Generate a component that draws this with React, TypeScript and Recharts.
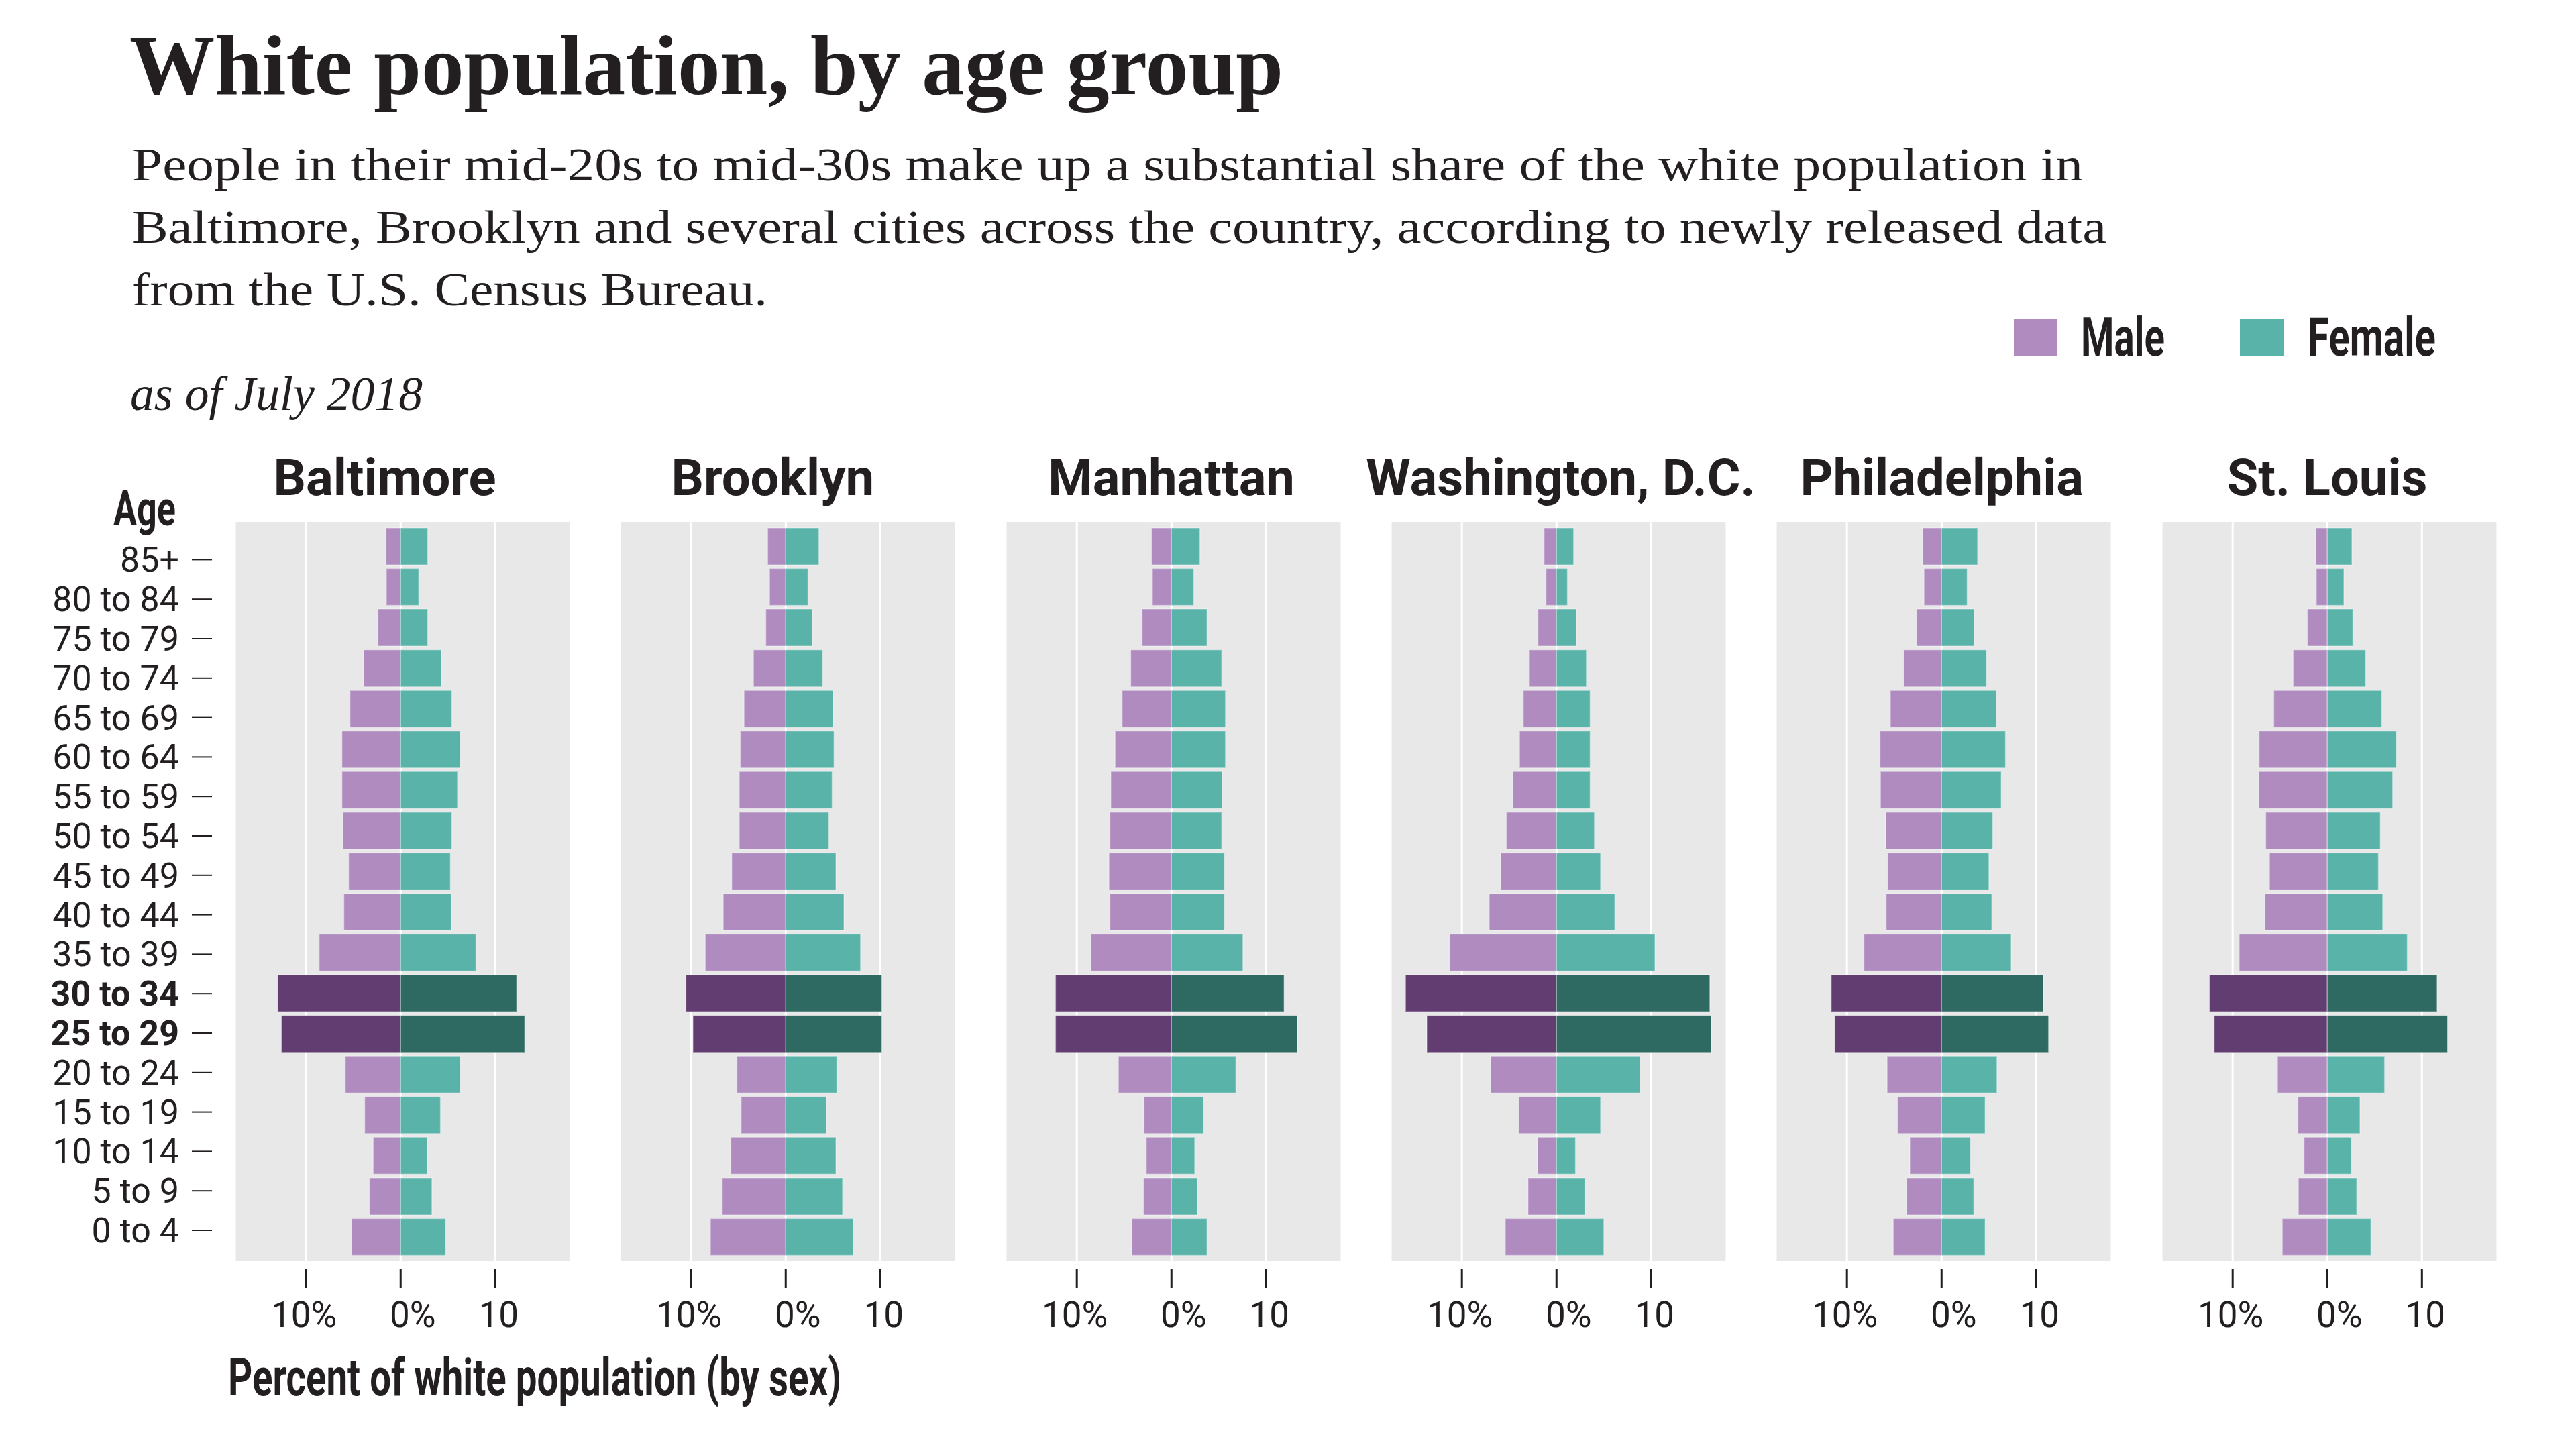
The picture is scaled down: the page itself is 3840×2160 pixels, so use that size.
import React from 'react';
import { BarChart, Bar, XAxis, YAxis, CartesianGrid, Cell } from 'recharts';

// age groups, oldest first (top of each pyramid)
const ageGroups = [
  '85+', '80 to 84', '75 to 79', '70 to 74', '65 to 69', '60 to 64', '55 to 59', '50 to 54', '45 to 49',
  '40 to 44', '35 to 39', '30 to 34', '25 to 29', '20 to 24', '15 to 19', '10 to 14', '5 to 9', '0 to 4',
];
const highlightAges = ['30 to 34', '25 to 29'];

const cities = ['Baltimore', 'Brooklyn', 'Manhattan', 'Washington, D.C.', 'Philadelphia', 'St. Louis'];

// percent of white population, by sex
const baltimoreMale = [1.55, 1.5, 2.4, 3.9, 5.35, 6.2, 6.2, 6.1, 5.5, 6.0, 8.6, 13.0, 12.6, 5.85, 3.8, 2.9, 3.3, 5.2];
const baltimoreFemale = [2.85, 1.9, 2.85, 4.3, 5.4, 6.3, 6.0, 5.4, 5.25, 5.35, 7.95, 12.25, 13.1, 6.3, 4.2, 2.8, 3.3, 4.75];
const brooklynMale = [1.9, 1.7, 2.1, 3.4, 4.4, 4.8, 4.9, 4.9, 5.7, 6.6, 8.5, 10.55, 9.8, 5.15, 4.7, 5.8, 6.7, 7.95];
const brooklynFemale = [3.5, 2.35, 2.8, 3.9, 5.0, 5.1, 4.9, 4.55, 5.3, 6.15, 7.9, 10.15, 10.15, 5.4, 4.3, 5.3, 6.0, 7.15];
const manhattanMale = [2.1, 2.0, 3.1, 4.3, 5.2, 5.95, 6.4, 6.5, 6.6, 6.5, 8.5, 12.25, 12.25, 5.6, 2.9, 2.65, 2.95, 4.2];
const manhattanFemale = [3.0, 2.35, 3.75, 5.3, 5.7, 5.7, 5.35, 5.3, 5.6, 5.6, 7.55, 11.9, 13.3, 6.8, 3.4, 2.45, 2.75, 3.75];
const washingtonMale = [1.3, 1.1, 1.95, 2.85, 3.5, 3.9, 4.6, 5.3, 5.9, 7.1, 11.3, 15.95, 13.7, 6.95, 4.0, 2.0, 3.0, 5.4];
const washingtonFemale = [1.8, 1.15, 2.1, 3.15, 3.55, 3.55, 3.55, 4.0, 4.65, 6.15, 10.4, 16.2, 16.35, 8.85, 4.65, 2.0, 3.0, 5.0];
const philadelphiaMale = [2.0, 1.85, 2.65, 4.0, 5.4, 6.5, 6.45, 5.9, 5.7, 5.85, 8.2, 11.65, 11.3, 5.75, 4.65, 3.35, 3.7, 5.1];
const philadelphiaFemale = [3.8, 2.7, 3.45, 4.75, 5.8, 6.75, 6.3, 5.4, 5.0, 5.3, 7.35, 10.75, 11.3, 5.85, 4.6, 3.05, 3.4, 4.6];
const stLouisMale = [1.2, 1.15, 2.1, 3.6, 5.65, 7.2, 7.25, 6.5, 6.1, 6.6, 9.3, 12.45, 11.95, 5.25, 3.1, 2.45, 3.05, 4.75];
const stLouisFemale = [2.6, 1.75, 2.7, 4.05, 5.75, 7.3, 6.9, 5.6, 5.4, 5.85, 8.45, 11.6, 12.7, 6.05, 3.45, 2.55, 3.1, 4.6];

const maleSeries = [baltimoreMale, brooklynMale, manhattanMale, washingtonMale, philadelphiaMale, stLouisMale];
const femaleSeries = [baltimoreFemale, brooklynFemale, manhattanFemale, washingtonFemale, philadelphiaFemale, stLouisFemale];

const xTicks = [-10, 0, 10];
const xTickLabels = ['10%', '0%', '10'];

const INK = '#231f20';
const MALE = '#b08bc0';
const FEMALE = '#59b3a9';
const MALE_DARK = '#623d72';
const FEMALE_DARK = '#2e6962';
const PANEL_BG = '#e8e8e8';
const SANS = 'Roboto, "Noto Sans", sans-serif';
const SERIF = '"Liberation Serif", "DejaVu Serif", serif';

const PANEL_X0 = 350;
const PANEL_STEP = 574.3;
const PANEL_W = 501;
const PANEL_TOP = 778;
const PANEL_H = 1102;
const AXIS_H = 130;
const X_DOMAIN: [number, number] = [-17.53, 17.99];
const ZERO_OFFSET = 247.5;
const labelNudge = [-3, 18, 5];
const titleNudge = [-24, -20, 0, 6, 0, 0];

function XTick(props: any) {
  const { x, y, payload } = props;
  const i = xTicks.indexOf(payload.value);
  return (
    <g>
      <line x1={x} x2={x} y1={y + 12} y2={y + 40} stroke={INK} strokeWidth={3} />
      <text x={x + labelNudge[i]} y={y + 98} textAnchor="middle" fontFamily={SANS} fontSize={53} fill={INK}>
        {xTickLabels[i]}
      </text>
    </g>
  );
}

function AgeTick(props: any) {
  const { x, y, payload } = props;
  const bold = highlightAges.includes(payload.value);
  return (
    <g>
      <line x1={x - 30} x2={x} y1={y} y2={y} stroke={INK} strokeWidth={2} />
      <text x={x - 49} y={y + 18} textAnchor="end" fontFamily={SANS} fontSize={52} fontWeight={bold ? 700 : 400} fill={INK}>
        {payload.value}
      </text>
    </g>
  );
}

function Panel({ index }: { index: number }) {
  const male = maleSeries[index];
  const female = femaleSeries[index];
  const data = ageGroups.map((age, i) => ({ age, male: -male[i], female: female[i] }));
  return (
    <div style={{ position: 'absolute', left: PANEL_X0 + index * PANEL_STEP, top: PANEL_TOP }}>
      <BarChart
        width={PANEL_W}
        height={PANEL_H + AXIS_H}
        data={data}
        layout="vertical"
        stackOffset="sign"
        barCategoryGap={3}
        margin={{ top: 0, right: 0, bottom: 0, left: 0 }}
      >
        <CartesianGrid horizontal={false} stroke="#ffffff" strokeWidth={3} fill={PANEL_BG} fillOpacity={1} />
        <XAxis
          type="number"
          domain={X_DOMAIN}
          allowDataOverflow
          ticks={xTicks}
          interval={0}
          axisLine={false}
          tickLine={false}
          tickSize={0}
          tickMargin={0}
          height={AXIS_H}
          tick={<XTick />}
        />
        <YAxis type="category" dataKey="age" hide padding={{ top: 6, bottom: 6 }} />
        <Bar dataKey="male" stackId="pop" isAnimationActive={false} stroke="#ffffff" strokeOpacity={0.3} strokeWidth={1.5}>
          {data.map((d) => (
            <Cell key={d.age} fill={highlightAges.includes(d.age) ? MALE_DARK : MALE} />
          ))}
        </Bar>
        <Bar dataKey="female" stackId="pop" isAnimationActive={false} stroke="#ffffff" strokeOpacity={0.3} strokeWidth={1.5}>
          {data.map((d) => (
            <Cell key={d.age} fill={highlightAges.includes(d.age) ? FEMALE_DARK : FEMALE} />
          ))}
        </Bar>
      </BarChart>
    </div>
  );
}

function AgeAxis() {
  const rows = ageGroups.map((age) => ({ age }));
  const step = 58.8;
  const pad = 40;
  return (
    <div style={{ position: 'absolute', left: 0, top: 834.7 - step / 2 - pad }}>
      <BarChart
        width={330}
        height={step * ageGroups.length + pad * 2}
        data={rows}
        layout="vertical"
        margin={{ top: pad, right: 0, bottom: pad, left: 0 }}
      >
        <XAxis type="number" hide domain={[0, 1]} />
        <YAxis
          type="category"
          dataKey="age"
          width={316}
          interval={0}
          axisLine={false}
          tickLine={false}
          tickSize={0}
          tickMargin={0}
          tick={<AgeTick />}
        />
      </BarChart>
    </div>
  );
}

export default function App() {
  return (
    <div style={{ position: 'absolute', left: 0, top: 0, width: 3840, height: 2160, background: '#ffffff', overflow: 'hidden' }}>
      <svg width={3840} height={2160} style={{ position: 'absolute', left: 0, top: 0 }}>
        <text x={193} y={140} fontFamily={SERIF} fontWeight={700} fontSize={128} fill={INK} textLength={1720} lengthAdjust="spacingAndGlyphs">
          White population, by age group
        </text>
        <text x={197} y={269} fontFamily={SERIF} fontSize={70} fill={INK} textLength={2908} lengthAdjust="spacingAndGlyphs">
          People in their mid-20s to mid-30s make up a substantial share of the white population in
        </text>
        <text x={197} y={362} fontFamily={SERIF} fontSize={70} fill={INK} textLength={2943} lengthAdjust="spacingAndGlyphs">
          Baltimore, Brooklyn and several cities across the country, according to newly released data
        </text>
        <text x={197} y={455} fontFamily={SERIF} fontSize={70} fill={INK} textLength={947} lengthAdjust="spacingAndGlyphs">
          from the U.S. Census Bureau.
        </text>
        <text x={194} y={611} fontFamily={SERIF} fontStyle="italic" fontSize={72} fill={INK} textLength={436} lengthAdjust="spacingAndGlyphs">
          as of July 2018
        </text>

        <rect x={3002} y={475} width={65} height={55} fill={MALE} />
        <text x={3102} y={530} fontFamily={SANS} fontWeight={700} fontSize={80} fill={INK} textLength={125} lengthAdjust="spacingAndGlyphs">
          Male
        </text>
        <rect x={3339} y={475} width={65} height={55} fill={FEMALE} />
        <text x={3440} y={530} fontFamily={SANS} fontWeight={700} fontSize={80} fill={INK} textLength={191} lengthAdjust="spacingAndGlyphs">
          Female
        </text>

        <text x={169} y={783} fontFamily={SANS} fontWeight={700} fontSize={73} fill={INK} textLength={93} lengthAdjust="spacingAndGlyphs">
          Age
        </text>
        {cities.map((c, i) => (
          <text
            key={c}
            x={PANEL_X0 + i * PANEL_STEP + ZERO_OFFSET + titleNudge[i]}
            y={738}
            textAnchor="middle"
            fontFamily={SANS}
            fontWeight={700}
            fontSize={76}
            fill={INK}
          >
            {c}
          </text>
        ))}
        <text x={340} y={2080} fontFamily={SANS} fontWeight={700} fontSize={77} fill={INK} textLength={914} lengthAdjust="spacingAndGlyphs">
          Percent of white population (by sex)
        </text>
      </svg>
      <AgeAxis />
      {cities.map((c, i) => (
        <Panel key={c} index={i} />
      ))}
    </div>
  );
}
